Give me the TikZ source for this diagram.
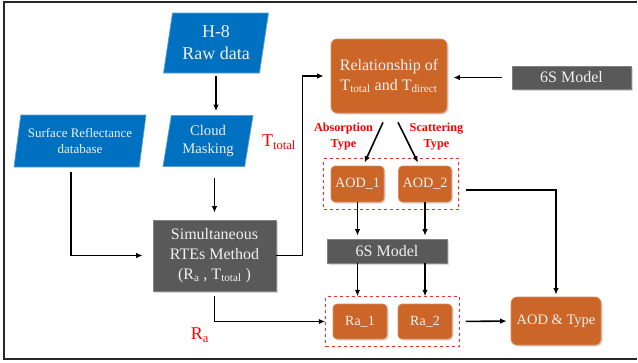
\documentclass[tikz,border=0pt]{standalone}
\usepackage{fontspec}
\setmainfont{Liberation Serif}
\definecolor{aodorange}{RGB}{204,102,40}
\definecolor{rawblue}{RGB}{0,112,192}
\definecolor{modelgray}{RGB}{89,89,89}
\usetikzlibrary{shapes.geometric}
\usetikzlibrary{fit}
\usetikzlibrary{arrows.meta}
\usetikzlibrary{shadows}

\begin{document}
\begin{tikzpicture}[x=1pt, y=-1pt,
    every node/.style={text=white!94!black, align=center, inner sep=1pt},
    datain/.style={trapezium, trapezium left angle=76, trapezium right angle=104,
      trapezium stretches body, fill=rawblue, draw=rawblue!65!white, line width=0.7pt},
    process/.style={rectangle, fill=modelgray, draw=modelgray!75!white, line width=0.7pt,
      drop shadow={opacity=0.3, shadow xshift=1.5pt, shadow yshift=-1.5pt}},
    result/.style={rectangle, rounded corners=6pt, fill=aodorange, draw=aodorange!75!white,
      line width=0.7pt, drop shadow={opacity=0.3, shadow xshift=1.5pt, shadow yshift=-1.5pt}},
    group/.style={draw=red!85!white, dashed, line width=0.8pt, inner sep=7pt},
    note/.style={text=red},
    flow/.style={-{Latex[length=6.5pt,width=5.5pt]}, line width=1.6pt}]

  \useasboundingbox (0,0) rectangle (638,362);
  \draw[line width=1.2pt, black!85] (637,2) -- (4,2) -- (4,359) -- (637,359);

  \node[datain, minimum width=105pt, minimum height=60pt, font=\fontsize{18}{22}\selectfont] (h8) at (216,43) {H-8\\Raw data};
  \node[datain, minimum width=90pt, minimum height=51pt, font=\fontsize{14.7}{18}\selectfont] (cloud) at (208,141) {Cloud\\Masking};
  \node[datain, minimum width=132pt, minimum height=52pt, font=\fontsize{13}{16}\selectfont] (surf) at (80,141) {Surface Reflectance\\database};

  \node[process, minimum width=123pt, minimum height=71pt, font=\fontsize{16}{20}\selectfont] (rte) at (214.5,255.5)
    {Simultaneous\\RTEs Method\\(R\textsubscript{a} , T\textsubscript{total} )};
  \node[result, minimum width=116pt, minimum height=74pt, font=\fontsize{16}{20}\selectfont] (rel) at (389,76)
    {Relationship of\\T\textsubscript{total} and T\textsubscript{direct}};
  \node[process, minimum width=119pt, minimum height=23pt, font=\fontsize{16}{18}\selectfont] (sixtop) at (571.5,77.5) {6S Model};

  \node[result, rounded corners=4pt, minimum width=53pt, minimum height=36pt, font=\fontsize{14.2}{16}\selectfont] (aod1) at (357.5,184) {AOD\_1};
  \node[result, rounded corners=4pt, minimum width=53pt, minimum height=36pt, font=\fontsize{14.2}{16}\selectfont] (aod2) at (425,184) {AOD\_2};
  \node[group, fit=(aod1)(aod2)] (aodgroup) {};

  \node[process, minimum width=120pt, minimum height=24pt, font=\fontsize{16}{18}\selectfont] (sixmid) at (387,251) {6S Model};

  \node[result, rounded corners=4pt, minimum width=54pt, minimum height=35pt, font=\fontsize{14}{16}\selectfont] (ra1) at (360,321.5) {Ra\_1};
  \node[result, rounded corners=4pt, minimum width=54pt, minimum height=35pt, font=\fontsize{14}{16}\selectfont] (ra2) at (425,321.5) {Ra\_2};
  \node[group, fit=(ra1)(ra2)] (ragroup) {};

  \node[result, minimum width=90pt, minimum height=48pt, font=\fontsize{14.5}{16}\selectfont] (final) at (556,321) {AOD \& Type};

  \node[note, font=\fontsize{12.2}{16}\selectfont\bfseries] (absorb) at (343.5,137) {Absorption\\Type};
  \node[note, font=\fontsize{12.2}{16}\selectfont\bfseries] (scatter) at (436.5,137) {Scattering\\Type};
  \node[note, font=\fontsize{18}{20}\selectfont] (ttotal) at (279,142) {T\textsubscript{total}};
  \node[note, font=\fontsize{18}{20}\selectfont] (ralabel) at (200,335) {R\textsubscript{a}};

  \draw[flow, shorten <=3pt, shorten >=4pt] (h8.south) -- (h8.south |- cloud.north);
  \draw[flow, shorten <=11pt, shorten >=7pt] (rte.north |- cloud.south) -- (rte.north);
  \draw[flow, shorten <=5pt, shorten >=10pt] ([xshift=-9pt]surf.south) |- (rte.west);
  \draw[flow, shorten >=7pt] (rte.east) -- ++(26,0) |- (rel.west);
  \draw[flow, shorten <=10pt, shorten >=6pt] (sixtop.west) -- (rel.east |- sixtop.west);

  \draw[flow] ([xshift=-6pt,yshift=-9pt]rel.south) -- ([xshift=7pt,yshift=3pt]aod1.north);
  \draw[flow] ([xshift=9pt,yshift=-9pt]rel.south) -- ([xshift=-7pt,yshift=3pt]aod2.north);

  \draw[flow, shorten >=3pt] (aod1.south) -- (aod1.south |- sixmid.north);
  \draw[flow, shorten >=3pt] (aod2.south) -- (aod2.south |- sixmid.north);
  \draw[flow] (aod1.south |- sixmid.south) -- (aod1.south |- ragroup.north);
  \draw[flow] (aod2.south |- sixmid.south) -- (aod2.south |- ragroup.north);

  \draw[flow, shorten <=5pt] (rte.south) |- (ragroup.west);
  \draw[flow, shorten <=6pt, shorten >=4pt] (ragroup.east) -- (final.west);
  \draw[flow, shorten >=2pt] ([xshift=7pt,yshift=-6pt]aodgroup.east) -| (final.north);
\end{tikzpicture}
\end{document}
